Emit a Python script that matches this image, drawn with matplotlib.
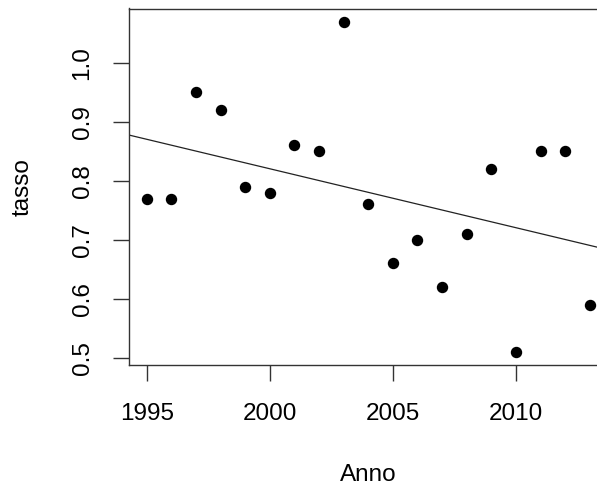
import matplotlib.pyplot as plt
import numpy as np

plt.rcParams['font.family'] = ['Liberation Sans', 'DejaVu Sans']

anni = [1995, 1996, 1997, 1998, 1999, 2000, 2001, 2002, 2003, 2004,
        2005, 2006, 2007, 2008, 2009, 2010, 2011, 2012, 2013]
tasso = [0.77, 0.77, 0.95, 0.92, 0.79, 0.78, 0.86, 0.85, 1.07, 0.76,
         0.66, 0.70, 0.62, 0.71, 0.82, 0.51, 0.85, 0.85, 0.59]
xticks = [1995, 2000, 2005, 2010]
yticks = [0.5, 0.6, 0.7, 0.8, 0.9, 1.0]

x = np.array(anni)
y = np.array(tasso)

fig = plt.figure(figsize=(5.97, 4.86), dpi=100)
# right edge of the box falls just outside the picture, like the original
ax = fig.add_axes([129/597, 1 - 365/486, (607.5 - 129)/597, (365 - 8.5)/486])

ax.plot(x, y, 'o', color='black', markersize=7.2, clip_on=False)

# retta di regressione (abline)
b, a = np.polyfit(x, y, 1)
xl = np.array([1990, 2020])
ax.plot(xl, a + b*xl, color='#222222', lw=0.9)

dx = (x.max() - x.min()) * 0.04
dy = (y.max() - y.min()) * 0.04
ax.set_xlim(x.min() - dx, x.max() + dx)
ax.set_ylim(y.min() - dy, y.max() + dy)

ax.set_xticks(xticks)
ax.set_yticks(yticks)
ax.set_yticklabels([f"{v:.1f}" for v in yticks], rotation=90, va='center')
ax.tick_params(length=11.5, width=1, color='#333333', labelsize=17.5)
ax.tick_params(axis='x', pad=16)
ax.tick_params(axis='y', pad=14)
for s in ax.spines.values():
    s.set_color('#333333')
    s.set_linewidth(1)

ax.set_xlabel("Anno", fontsize=17.5, labelpad=28)
ax.set_ylabel("tasso", fontsize=17.5, labelpad=27)

fig.savefig("out.png", dpi=100)
